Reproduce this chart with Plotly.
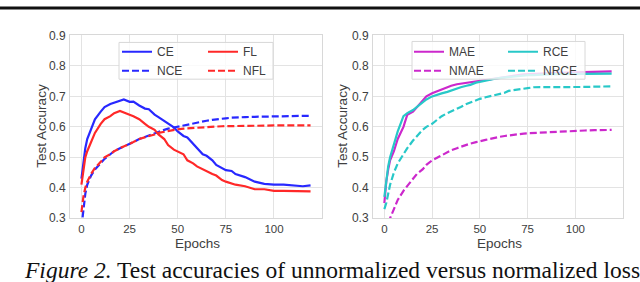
import plotly.graph_objects as go

epochs = [0, 1, 2, 3, 5, 7, 10, 12, 15, 17, 20, 22, 25, 27, 30, 33, 35, 38, 40, 43, 45, 48,
          50, 53, 55, 58, 60, 63, 65, 68, 70, 73, 75, 78, 80, 85, 90, 95, 100, 105, 110, 115, 119]

ce = [0.43, 0.49, 0.53, 0.56, 0.595, 0.625, 0.65, 0.665, 0.675, 0.68, 0.685, 0.69, 0.682, 0.683,
      0.67, 0.66, 0.658, 0.64, 0.632, 0.62, 0.61, 0.598, 0.585, 0.57, 0.565, 0.545, 0.53, 0.51,
      0.505, 0.49, 0.475, 0.465, 0.458, 0.455, 0.445, 0.435, 0.42, 0.413, 0.41, 0.41, 0.407, 0.405, 0.408]
fl = [0.41, 0.46, 0.50, 0.52, 0.55, 0.58, 0.61, 0.625, 0.635, 0.645, 0.652, 0.648, 0.64, 0.635,
      0.625, 0.61, 0.60, 0.59, 0.575, 0.56, 0.54, 0.525, 0.52, 0.51, 0.49, 0.48, 0.47, 0.46,
      0.455, 0.445, 0.44, 0.425, 0.42, 0.415, 0.41, 0.405, 0.395, 0.395, 0.39, 0.39, 0.39, 0.39, 0.388]
nce = [0.27, 0.33, 0.38, 0.41, 0.44, 0.46, 0.48, 0.495, 0.51, 0.52, 0.53, 0.535, 0.545, 0.55,
       0.56, 0.567, 0.573, 0.58, 0.585, 0.59, 0.594, 0.598, 0.60, 0.605, 0.608, 0.612, 0.615, 0.618,
       0.62, 0.623, 0.625, 0.627, 0.628, 0.63, 0.63, 0.632, 0.633, 0.634, 0.634, 0.635, 0.635, 0.636, 0.636]
nfl = [0.32, 0.37, 0.40, 0.42, 0.445, 0.465, 0.485, 0.50, 0.51, 0.52, 0.53, 0.535, 0.545, 0.55,
       0.56, 0.565, 0.57, 0.575, 0.58, 0.584, 0.587, 0.59, 0.592, 0.594, 0.595, 0.597, 0.598, 0.599,
       0.60, 0.60, 0.601, 0.602, 0.602, 0.603, 0.603, 0.603, 0.604, 0.604, 0.605, 0.605, 0.604, 0.605, 0.605]

mae = [0.35, 0.42, 0.46, 0.49, 0.52, 0.56, 0.60, 0.64, 0.65, 0.665, 0.685, 0.70, 0.71, 0.715,
       0.725, 0.73, 0.735, 0.74, 0.742, 0.745, 0.745, 0.75, 0.752, 0.755, 0.757, 0.76, 0.762, 0.765,
       0.767, 0.768, 0.77, 0.772, 0.773, 0.774, 0.775, 0.776, 0.777, 0.778, 0.78, 0.78, 0.781, 0.782, 0.782]
rce = [0.37, 0.43, 0.47, 0.50, 0.54, 0.585, 0.635, 0.645, 0.655, 0.665, 0.68, 0.69, 0.70, 0.705,
       0.71, 0.715, 0.72, 0.725, 0.73, 0.735, 0.738, 0.745, 0.748, 0.752, 0.755, 0.758, 0.76, 0.762,
       0.764, 0.766, 0.767, 0.768, 0.77, 0.77, 0.771, 0.772, 0.773, 0.773, 0.774, 0.774, 0.774, 0.775, 0.775]
nmae = [0.22, 0.25, 0.28, 0.30, 0.33, 0.36, 0.39, 0.405, 0.43, 0.445, 0.46, 0.475, 0.49, 0.497,
        0.508, 0.518, 0.523, 0.53, 0.535, 0.54, 0.545, 0.55, 0.552, 0.557, 0.56, 0.565, 0.567, 0.57,
        0.572, 0.575, 0.576, 0.578, 0.579, 0.58, 0.581, 0.583, 0.585, 0.587, 0.588, 0.588, 0.589, 0.59, 0.59]
nrce = [0.33, 0.35, 0.38, 0.41, 0.45, 0.48, 0.51, 0.53, 0.555, 0.57, 0.59, 0.60, 0.61, 0.62,
        0.635, 0.645, 0.65, 0.66, 0.665, 0.675, 0.68, 0.688, 0.692, 0.697, 0.70, 0.705, 0.708, 0.712,
        0.718, 0.72, 0.722, 0.725, 0.727, 0.73, 0.73, 0.729, 0.73, 0.731, 0.73, 0.731, 0.732, 0.732, 0.733]

y_ticks = [0.3, 0.4, 0.5, 0.6, 0.7, 0.8, 0.9]
x_ticks = [0, 25, 50, 75, 100]
caption_italic = "Figure 2."
caption_rest = " Test accuracies of unnormalized versus normalized loss"

BLUE = "rgb(40,40,255)"
RED = "rgb(255,40,40)"
MAG = "rgb(204,40,204)"
CYAN = "rgb(40,200,200)"

W, H = 640, 282
def px(x): return x / W
# vertical placement: target pixel rows, adjusted for the observed vertical fit of the photo
def py(y): return 1 - (y / 0.957 - 6.6) / H

fig = go.Figure()
series = [
    (ce, "CE", BLUE, "solid", "x", "y", "legend"),
    (nce, "NCE", BLUE, "dash", "x", "y", "legend"),
    (fl, "FL", RED, "solid", "x", "y", "legend2"),
    (nfl, "NFL", RED, "dash", "x", "y", "legend2"),
    (mae, "MAE", MAG, "solid", "x2", "y2", "legend3"),
    (nmae, "NMAE", MAG, "dash", "x2", "y2", "legend3"),
    (rce, "RCE", CYAN, "solid", "x2", "y2", "legend4"),
    (nrce, "NRCE", CYAN, "dash", "x2", "y2", "legend4"),
]
for vals, name, col, dash, xa, ya, lg in series:
    fig.add_trace(go.Scatter(
        x=epochs, y=vals, name=name, mode="lines", xaxis=xa, yaxis=ya, legend=lg,
        line=dict(color=col, width=2.2, dash="7px,3px" if dash == "dash" else "solid"),
    ))

FAM = "Liberation Sans, Arial, sans-serif"
GRAY = "#404040"
tickfont = dict(family=FAM, size=12, color=GRAY)
xtickfont = dict(family=FAM, size=11.5, color=GRAY)
ax_common = dict(showgrid=True, gridcolor="#e3e3e3", gridwidth=1, zeroline=False,
                 showline=True, linecolor="#d8d8d8", linewidth=1, mirror=True, ticks="")
xa = dict(range=[-5.95, 124.95], tickvals=x_ticks, ticklabelstandoff=0, tickfont=xtickfont, **ax_common)
yax = dict(range=[0.3, 0.9], tickvals=y_ticks, tickformat=".1f", ticklabelstandoff=1,
           tickfont=tickfont, **ax_common)

ydom = [py(219), py(35)]
fig.update_layout(
    width=W, height=H, margin=dict(l=0, r=0, t=0, b=0),
    paper_bgcolor="white", plot_bgcolor="white", font=tickfont,
    xaxis=dict(domain=[px(70), px(322)], anchor="y", **xa),
    yaxis=dict(domain=ydom, anchor="x", **yax),
    xaxis2=dict(domain=[px(373), px(623)], anchor="y2", **xa),
    yaxis2=dict(domain=ydom, anchor="x2", **yax),
)

legfont = dict(family=FAM, size=12, color=GRAY)
leg_common = dict(bgcolor="rgba(0,0,0,0)", borderwidth=0, font=legfont, itemwidth=30,
                  xanchor="left", yanchor="top", tracegroupgap=0, orientation="v")
fig.update_layout(
    legend=dict(x=px(117), y=py(36.8), **leg_common),
    legend2=dict(x=px(203), y=py(36.8), **leg_common),
    legend3=dict(x=px(409), y=py(36.8), **leg_common),
    legend4=dict(x=px(503), y=py(36.8), **leg_common),
)

shapes = [
    dict(type="rect", xref="paper", yref="paper", x0=px(119), x1=px(273), y0=py(79), y1=py(42),
         line=dict(color="#d8d8d8", width=1), fillcolor="rgba(255,255,255,0.8)", layer="above"),
    dict(type="rect", xref="paper", yref="paper", x0=px(412), x1=px(585), y0=py(79), y1=py(41),
         line=dict(color="#d8d8d8", width=1), fillcolor="rgba(255,255,255,0.8)", layer="above"),
    dict(type="line", xref="paper", yref="paper", x0=0, x1=1, y0=0.9965, y1=0.9965,
         line=dict(color="#111111", width=3)),
]
fig.update_layout(shapes=shapes)

titlefont = dict(family=FAM, size=13.5, color=GRAY)
ann = [
    dict(text="Epochs", x=px(197), y=py(244.5), xref="paper", yref="paper", showarrow=False,
         font=titlefont, xanchor="center", yanchor="middle"),
    dict(text="Epochs", x=px(499), y=py(244.5), xref="paper", yref="paper", showarrow=False,
         font=titlefont, xanchor="center", yanchor="middle"),
    dict(text="Test Accuracy", x=px(42), y=py(125.8), xref="paper", yref="paper", showarrow=False,
         textangle=-90, font=titlefont, xanchor="center", yanchor="middle"),
    dict(text="Test Accuracy", x=px(343), y=py(125.8), xref="paper", yref="paper", showarrow=False,
         textangle=-90, font=titlefont, xanchor="center", yanchor="middle"),
    dict(text="<i>" + caption_italic + "</i>" + caption_rest, x=px(22), y=py(270.9),
         xref="paper", yref="paper", showarrow=False, xanchor="left", yanchor="middle",
         font=dict(family="Liberation Serif, Times New Roman, serif", size=23.5, color="#111111")),
]
fig.update_layout(annotations=ann)

page_css = ("var s=document.documentElement.style; s.margin='0'; s.padding='0'; s.overflow='hidden';"
            "var b=document.body.style; b.margin='0'; b.padding='0'; b.overflow='hidden'; b.height='282px';")
fig.write_html("out.html", config={"displayModeBar": False}, post_script=page_css)
